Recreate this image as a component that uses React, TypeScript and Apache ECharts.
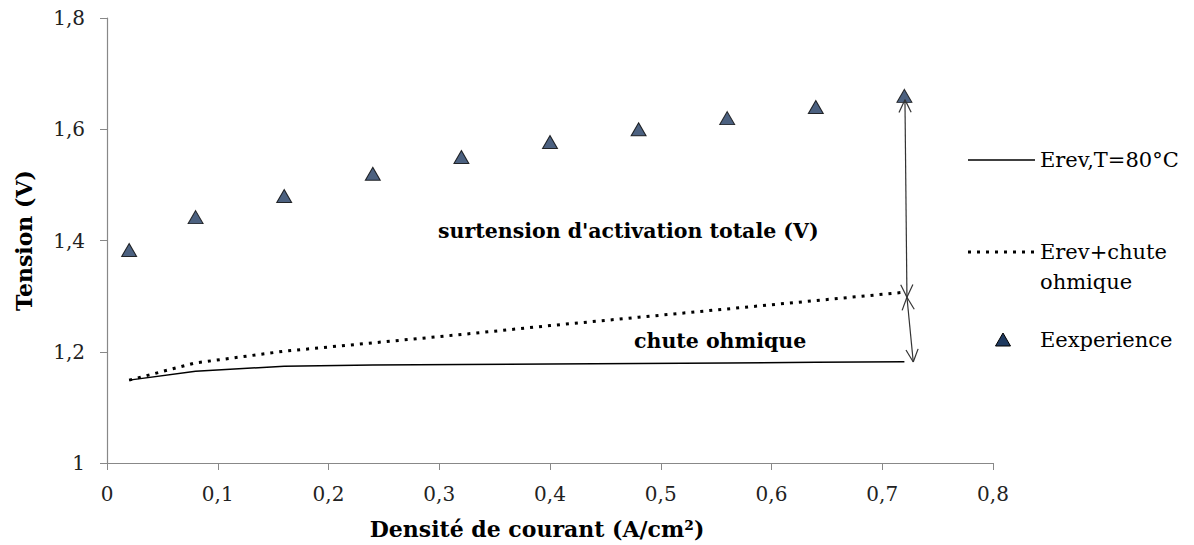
import React, { useEffect, useRef } from "react";
import * as echarts from "echarts";

const currentDensity = [0.02, 0.08, 0.16, 0.24, 0.32, 0.4, 0.48, 0.56, 0.64, 0.72];
const erev80 = [1.149, 1.165, 1.174, 1.176, 1.177, 1.178, 1.179, 1.18, 1.181, 1.182];
const erevOhmic = [1.149, 1.18, 1.201, 1.216, 1.231, 1.247, 1.262, 1.277, 1.292, 1.307];
const experience = [1.383, 1.442, 1.48, 1.52, 1.55, 1.577, 1.6, 1.62, 1.64, 1.66];
const arrowSegments = [
  [0.7205, 1.653, 0.7223, 1.298],
  [0.7223, 1.298, 0.728, 1.1816],
];
const seriesNames = ["Erev,T=80°C", "Erev+chute\nohmique", "Eexperience"];
const annotationTexts = ["surtension d'activation totale (V)", "chute ohmique"];
const xAxisTitle = "Densité de courant (A/cm²)";
const yAxisTitle = "Tension (V)";

const SERIF = "DejaVu Serif";
const fmt = (v: number) => String(Math.round(v * 10) / 10).replace(".", ",");

export default function App() {
  const ref = useRef<HTMLDivElement>(null);
  useEffect(() => {
    if (!ref.current) return;
    const chart = echarts.init(ref.current, null, { renderer: "svg" });
    const pair = (ys: number[]) => currentDensity.map((x, i) => [x, ys[i]]);
    const head = (px: number[], qx: number[], L: number, a: number) => {
      const dx = px[0] - qx[0];
      const dy = px[1] - qx[1];
      const len = Math.sqrt(dx * dx + dy * dy) || 1;
      const ux = dx / len;
      const uy = dy / len;
      const out: any[] = [];
      [a, -a].forEach((ang) => {
        const c = Math.cos(ang);
        const s = Math.sin(ang);
        const rx = ux * c - uy * s;
        const ry = ux * s + uy * c;
        out.push({
          type: "line",
          shape: { x1: px[0], y1: px[1], x2: px[0] - rx * L, y2: px[1] - ry * L },
          style: { stroke: "#333", lineWidth: 1.2 },
        });
      });
      return out;
    };
    const textStyle = (size: number, weight: string) => ({
      fontFamily: SERIF,
      fontSize: size,
      fontWeight: weight,
      fill: "#000",
    });
    chart.setOption({
      animation: false,
      backgroundColor: "#fff",
      textStyle: { fontFamily: SERIF },
      grid: { left: 107, right: 201, top: 18, bottom: 82 },
      xAxis: {
        type: "value",
        min: 0,
        max: 0.8,
        interval: 0.1,
        name: xAxisTitle,
        nameLocation: "middle",
        nameGap: 55,
        nameTextStyle: {
          fontFamily: SERIF,
          fontWeight: "bold",
          fontSize: 22,
          color: "#000",
          padding: [0, 26, 0, 0],
        },
        axisLine: { lineStyle: { color: "#888", width: 1.2 } },
        axisTick: { show: true, length: 7, lineStyle: { color: "#888" } },
        axisLabel: { formatter: fmt, fontFamily: SERIF, fontSize: 20, color: "#222", margin: 21 },
        splitLine: { show: false },
      },
      yAxis: {
        type: "value",
        min: 1,
        max: 1.8,
        interval: 0.2,
        name: yAxisTitle,
        nameLocation: "middle",
        nameGap: 72,
        nameTextStyle: { fontFamily: SERIF, fontWeight: "bold", fontSize: 22, color: "#000" },
        axisLine: { show: true, lineStyle: { color: "#888", width: 1.2 } },
        axisTick: { show: true, length: 7, lineStyle: { color: "#888" } },
        axisLabel: { formatter: fmt, fontFamily: SERIF, fontSize: 20, color: "#222", margin: 22 },
        splitLine: { show: false },
      },
      series: [
        {
          name: seriesNames[0],
          type: "line",
          data: pair(erev80),
          showSymbol: false,
          symbol: "none",
          lineStyle: { color: "#000", width: 1.5 },
        },
        {
          name: seriesNames[1],
          type: "line",
          data: pair(erevOhmic),
          showSymbol: false,
          symbol: "none",
          lineStyle: { color: "#000", width: 3, type: [3, 6], cap: "butt" },
        },
        {
          name: seriesNames[2],
          type: "scatter",
          data: pair(experience),
          symbol: "triangle",
          symbolSize: [15, 13],
          itemStyle: { color: "#1f3a60", borderColor: "#000", borderWidth: 1 },
        },
        {
          type: "custom",
          silent: true,
          clip: false,
          encode: { x: [0, 2], y: [1, 3] },
          data: arrowSegments,
          renderItem: (params: any, api: any) => {
            const p1 = api.coord([api.value(0), api.value(1)]);
            const p2 = api.coord([api.value(2), api.value(3)]);
            const children: any[] = [
              {
                type: "line",
                shape: { x1: p1[0], y1: p1[1], x2: p2[0], y2: p2[1] },
                style: { stroke: "#333", lineWidth: 1.2 },
              },
              ...head(p1, p2, 14, 0.45),
              ...head(p2, p1, 14, 0.45),
            ];
            return { type: "group", children };
          },
          z: 5,
        },
      ],
      graphic: [
        {
          type: "text",
          x: 438,
          y: 231,
          style: { text: annotationTexts[0], ...textStyle(20.5, "bold"), verticalAlign: "middle" },
        },
        {
          type: "text",
          x: 634,
          y: 341,
          style: { text: annotationTexts[1], ...textStyle(20.5, "bold"), verticalAlign: "middle" },
        },
        {
          type: "line",
          shape: { x1: 968, y1: 160, x2: 1035, y2: 160 },
          style: { stroke: "#000", lineWidth: 1.5 },
        },
        {
          type: "text",
          x: 1040,
          y: 160,
          style: { text: seriesNames[0], ...textStyle(21, "normal"), verticalAlign: "middle" },
        },
        {
          type: "line",
          shape: { x1: 968, y1: 252, x2: 1035, y2: 252 },
          style: { stroke: "#000", lineWidth: 3, lineDash: [3, 6] },
        },
        {
          type: "text",
          x: 1040,
          y: 237,
          style: { text: seriesNames[1], ...textStyle(21, "normal"), lineHeight: 30, verticalAlign: "top" },
        },
        {
          type: "polygon",
          shape: { points: [[1003, 333], [1010.5, 346], [995.5, 346]] },
          style: { fill: "#1f3a60", stroke: "#000", lineWidth: 1 },
        },
        {
          type: "text",
          x: 1040,
          y: 340,
          style: { text: seriesNames[2], ...textStyle(21, "normal"), verticalAlign: "middle" },
        },
      ],
    });
    return () => chart.dispose();
  }, []);
  return (
    <div
      ref={ref}
      style={{ position: "fixed", left: 0, top: 0, width: 1194, height: 545, background: "#fff" }}
    />
  );
}
